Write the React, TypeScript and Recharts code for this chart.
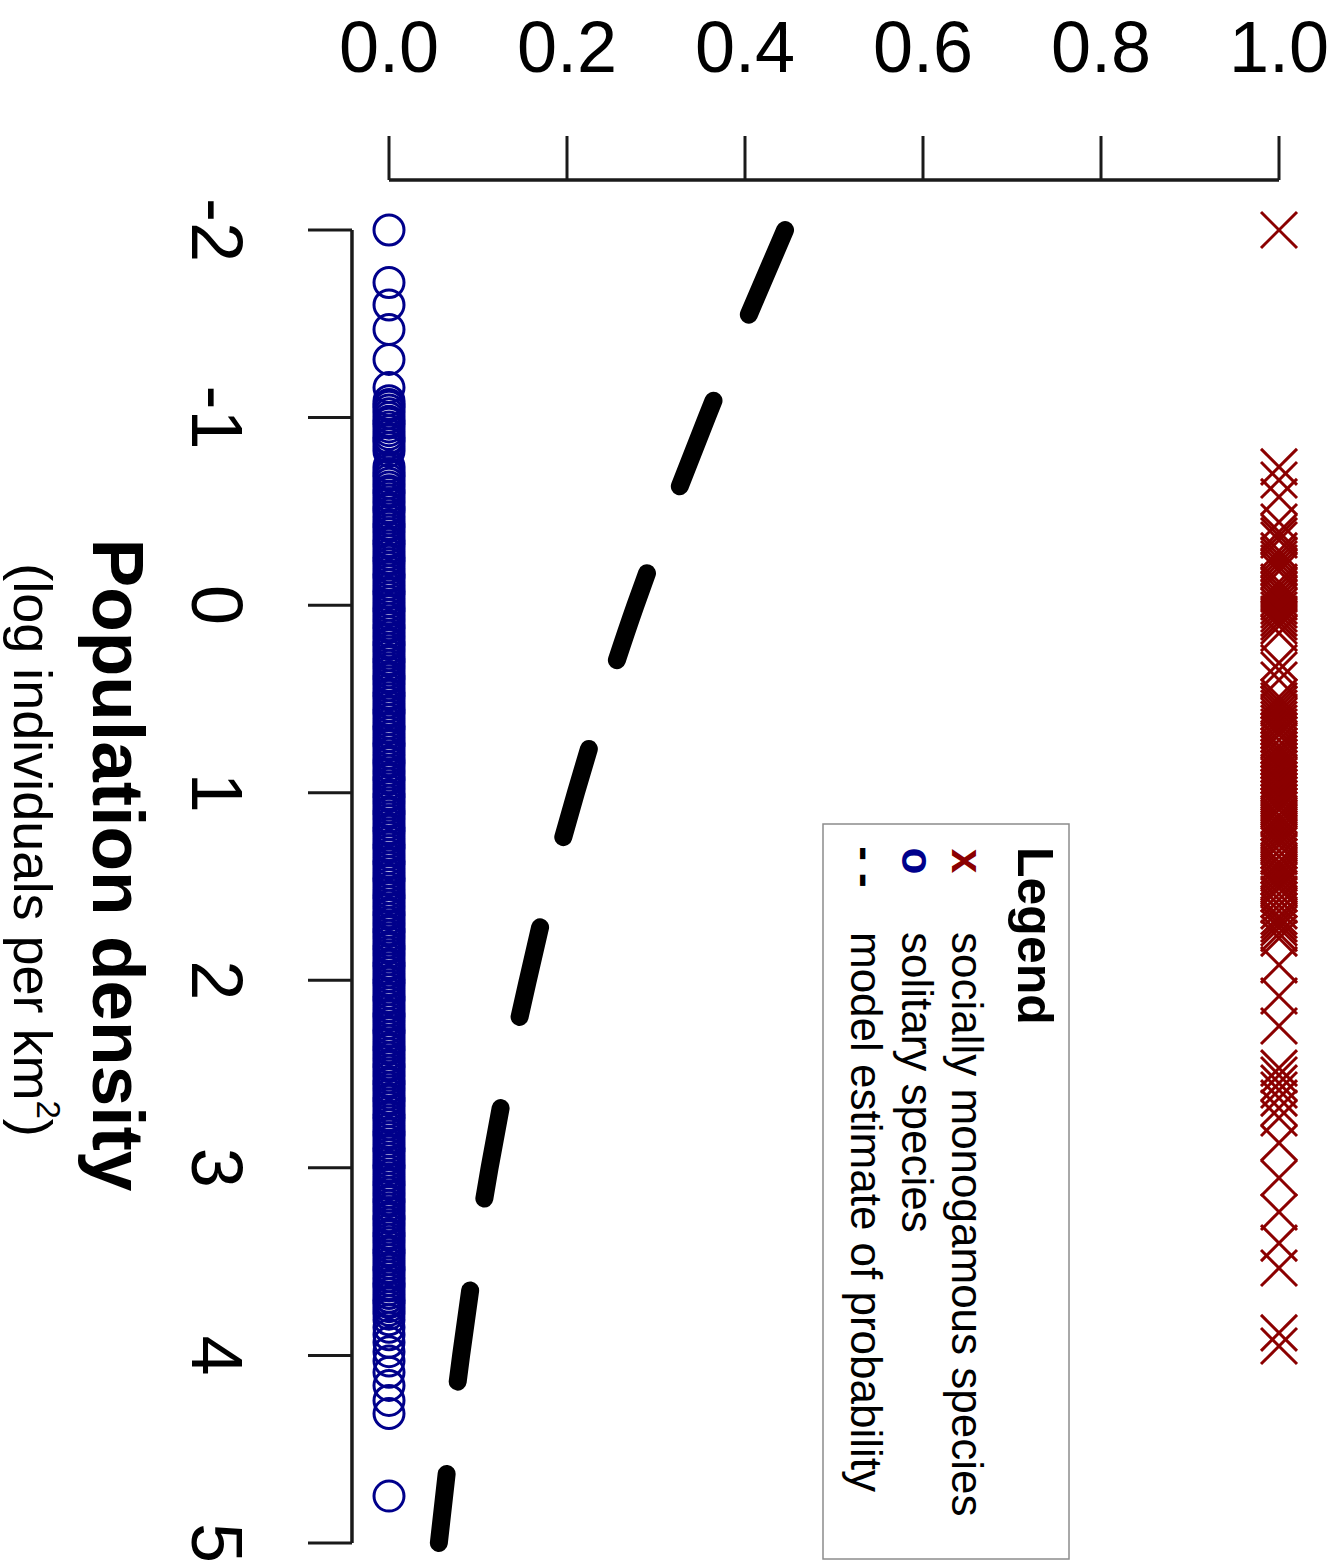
import React from 'react';
import {
  ComposedChart,
  Line,
  Scatter,
  XAxis,
  YAxis,
  ReferenceLine,
  Legend,
  Customized,
} from 'recharts';

// ---------- data ----------
const densityTicks = [-2, -1, 0, 1, 2, 3, 4, 5];
const probabilityTicks = [0, 0.2, 0.4, 0.6, 0.8, 1.0];

const modelDensity = [-2, -1.5, -1, -0.5, 0, 0.5, 1, 1.5, 2, 2.5, 3, 3.5, 4, 4.5, 5];
const modelProbability = [0.445, 0.4, 0.357, 0.316, 0.277, 0.242, 0.21, 0.181, 0.156, 0.133, 0.113, 0.096, 0.081, 0.068, 0.056];

// socially monogamous species (probability = 1)
const monogamousDensity = [
  -2.0,
  -0.737, -0.667, -0.577, -0.443,
  -0.39, -0.369, -0.347, -0.289, -0.267, -0.246, -0.225, -0.203, -0.182,
  -0.123, -0.102, -0.081, -0.059, -0.038, -0.017, 0.005, 0.026, 0.047, 0.069, 0.09, 0.111,
  0.149, 0.308, 0.346, 0.399, 0.49,
  0.51, 0.53, 0.55, 0.57, 0.59, 0.61, 0.63, 0.65, 0.67, 0.69, 0.72, 0.75, 0.77, 0.79,
  0.81, 0.83, 0.85, 0.87, 0.89, 0.91, 0.93, 0.95, 0.97, 0.99, 1.01, 1.03, 1.05, 1.07,
  1.09, 1.12, 1.14, 1.16, 1.18, 1.2, 1.22, 1.24, 1.26, 1.28, 1.31, 1.34, 1.37, 1.39,
  1.41, 1.43, 1.45, 1.47, 1.49, 1.51, 1.54, 1.57, 1.6, 1.63, 1.66, 1.68, 1.7, 1.72, 1.75,
  1.775, 1.918, 2.084, 2.244,
  2.468, 2.505, 2.548, 2.585, 2.628, 2.681, 2.734, 2.867, 3.054, 3.235, 3.401, 3.534,
  3.88, 3.95,
];

// solitary species (probability = 0)
const solitaryDensity = [
  -2.0, -1.72, -1.6, -1.47, -1.31, -1.16,
  -1.09, -1.07, -1.06, -1.04, -1.02, -1.0, -0.98, -0.97, -0.95, -0.93, -0.91, -0.89, -0.88, -0.86, -0.84, -0.82,
  -0.74, -0.72, -0.7, -0.69, -0.67, -0.65, -0.63, -0.61, -0.6, -0.58, -0.56, -0.54, -0.52, -0.51, -0.49, -0.47,
  -0.45, -0.43, -0.42, -0.4, -0.38, -0.36, -0.34, -0.33, -0.31, -0.29, -0.27, -0.25, -0.24, -0.22, -0.2, -0.18,
  -0.16, -0.15, -0.13, -0.11, -0.09, -0.07, -0.06, -0.04, -0.02, 0.0, 0.02, 0.03, 0.05, 0.07, 0.09, 0.11,
  0.12, 0.14, 0.16, 0.18, 0.2, 0.21, 0.23, 0.25, 0.27, 0.29, 0.3, 0.32, 0.34, 0.36, 0.38, 0.39, 0.41, 0.43,
  0.45, 0.47, 0.48, 0.5, 0.52, 0.54, 0.56, 0.57, 0.59, 0.61, 0.63, 0.65, 0.66, 0.68, 0.7, 0.72, 0.74, 0.75,
  0.77, 0.79, 0.81, 0.83, 0.84, 0.86, 0.88, 0.9, 0.92, 0.93, 0.95, 0.97, 0.99, 1.01, 1.02, 1.04, 1.06, 1.08,
  1.1, 1.11, 1.13, 1.15, 1.17, 1.19, 1.2, 1.22, 1.24, 1.26, 1.28, 1.29, 1.31, 1.33, 1.35, 1.37, 1.38, 1.4,
  1.42, 1.44, 1.46, 1.47, 1.49, 1.51, 1.53, 1.55, 1.56, 1.58, 1.6, 1.62, 1.64, 1.65, 1.67, 1.69, 1.71, 1.73,
  1.74, 1.76, 1.78, 1.8, 1.82, 1.83, 1.85, 1.87, 1.89, 1.91, 1.92, 1.94, 1.96, 1.98, 2.0, 2.01, 2.03, 2.05,
  2.07, 2.09, 2.1, 2.12, 2.14, 2.16, 2.18, 2.19, 2.21, 2.23, 2.25, 2.27, 2.28, 2.3, 2.32, 2.34, 2.36, 2.37,
  2.39, 2.41, 2.43, 2.45, 2.46, 2.48, 2.5, 2.52, 2.54, 2.55, 2.57, 2.59, 2.61, 2.63, 2.64, 2.66, 2.68, 2.7,
  2.72, 2.73, 2.75, 2.77, 2.79, 2.81, 2.82, 2.84, 2.86, 2.88, 2.9, 2.91, 2.93, 2.95, 2.97, 2.99, 3.0, 3.02,
  3.04, 3.06, 3.08, 3.09, 3.11, 3.13, 3.15, 3.17, 3.18, 3.2, 3.22, 3.24, 3.26, 3.27, 3.29, 3.31, 3.33, 3.35,
  3.36, 3.38, 3.4, 3.42, 3.44, 3.45, 3.47, 3.49, 3.51, 3.53, 3.54, 3.56, 3.58, 3.6, 3.62, 3.63, 3.65, 3.67,
  3.69, 3.71, 3.72, 3.74, 3.76, 3.78,
  3.81, 3.85, 3.89, 3.93, 3.98, 4.03, 4.09, 4.16, 4.24, 4.31, 4.75,
];

const legendTitle = 'Legend';
const legendSymbols = ['x', 'o', '- -'];
const legendLabels = ['socially monogamous species', 'solitary species', 'model estimate of probability'];
const xAxisTitle = 'Population density';
const xAxisSubtitle = '(log individuals per km';

// ---------- styles ----------
const FONT = "'Liberation Sans', Arial, Helvetica, sans-serif";
const RED = '#8B0000';
const BLUE = '#00008B';
const AXIS = '#1a1a1a';

const W = 1565; // chart drawn in un-rotated frame, then rotated 90deg clockwise
const H = 1342;

const modelData = modelDensity.map((d, i) => ({ d, p: modelProbability[i] }));
const monogamousData = monogamousDensity.map((d) => ({ d, p: 1 }));
const solitaryData = solitaryDensity.map((d) => ({ d, p: 0 }));

const XTick = (props: any) => {
  const { x, payload } = props;
  return (
    <g>
      <line x1={x} x2={x} y1={990} y2={1034} stroke={AXIS} strokeWidth={3} />
      <text x={x} y={1150} textAnchor="middle" fontSize={72} fontFamily={FONT} fill="#000">
        {String(payload.value)}
      </text>
    </g>
  );
};

const YTick = (props: any) => {
  const { y, payload } = props;
  return (
    <g>
      <line x1={136} x2={180} y1={y} y2={y} stroke={AXIS} strokeWidth={3} />
      <text
        x={72}
        y={y}
        transform={`rotate(-90 72 ${y})`}
        textAnchor="middle"
        fontSize={72}
        fontFamily={FONT}
        fill="#000"
      >
        {Number(payload.value).toFixed(1)}
      </text>
    </g>
  );
};

const CircleShape = (props: any) => (
  <circle cx={props.cx} cy={props.cy} r={15} fill="none" stroke={BLUE} strokeWidth={3} />
);

const CrossShape = (props: any) => {
  const { cx, cy } = props;
  const s = 18;
  return (
    <g stroke={RED} strokeWidth={3}>
      <line x1={cx - s} y1={cy - s} x2={cx + s} y2={cy + s} />
      <line x1={cx - s} y1={cy + s} x2={cx + s} y2={cy - s} />
    </g>
  );
};

const LegendBox = () => (
  <svg width={737} height={248} style={{ display: 'block' }} fontFamily={FONT}>
    <rect x={1} y={1} width={735} height={246} fill="#fff" stroke="#8c8c8c" strokeWidth={1.5} />
    <text x={24} y={52} fontSize={50} fontWeight="bold" fill="#000">{legendTitle}</text>
    <text x={38} y={118} fontSize={44} fontWeight="bold" textAnchor="middle" fill={RED}>{legendSymbols[0]}</text>
    <text x={109} y={118} fontSize={44} fill="#000">{legendLabels[0]}</text>
    <text x={38} y={168} fontSize={44} fontWeight="bold" textAnchor="middle" fill={BLUE}>{legendSymbols[1]}</text>
    <text x={109} y={168} fontSize={44} fill="#000">{legendLabels[1]}</text>
    <text x={44} y={219} fontSize={44} fontWeight="bold" textAnchor="middle" fill="#000">{legendSymbols[2]}</text>
    <text x={109} y={219} fontSize={44} fill="#000">{legendLabels[2]}</text>
  </svg>
);

const AxisTitles = () => (
  <g fontFamily={FONT} fill="#000">
    <text x={865} y={1249} textAnchor="middle" fontSize={73} fontWeight="bold">{xAxisTitle}</text>
    <text x={850} y={1328} textAnchor="middle" fontSize={54}>
      {xAxisSubtitle}
      <tspan fontSize={33} dy={-23}>2</tspan>
      <tspan dy={23}>)</tspan>
    </text>
  </g>
);

export default function App() {
  return (
    <div
      style={{
        position: 'absolute',
        left: 0,
        top: 0,
        width: W,
        height: H,
        background: '#fff',
        transformOrigin: '0 0',
        transform: `translate(${H}px, 0px) rotate(90deg)`,
      }}
    >
      <ComposedChart width={W} height={H} margin={{ top: 63, right: 22, bottom: 89, left: 50 }}>
        <XAxis
          type="number"
          dataKey="d"
          domain={[-2, 5]}
          ticks={densityTicks}
          interval={0}
          height={300}
          axisLine={false}
          tickLine={false}
          tick={<XTick />}
        />
        <YAxis
          type="number"
          dataKey="p"
          domain={[0, 1]}
          ticks={probabilityTicks}
          interval={0}
          width={180}
          axisLine={false}
          tickLine={false}
          tick={<YTick />}
        />
        <ReferenceLine
          segment={[{ x: -2, y: -0.0416 }, { x: 5, y: -0.0416 }]}
          ifOverflow="visible"
          stroke={AXIS}
          strokeWidth={3.5}
        />
        <ReferenceLine
          segment={[{ x: -2.2666, y: 0 }, { x: -2.2666, y: 1 }]}
          ifOverflow="visible"
          stroke={AXIS}
          strokeWidth={3.5}
        />
        <Scatter name="solitary species" data={solitaryData} shape={<CircleShape />} isAnimationActive={false} />
        <Scatter name="socially monogamous species" data={monogamousData} shape={<CrossShape />} isAnimationActive={false} />
        <Line
          name="model estimate of probability"
          data={modelData}
          dataKey="p"
          type="monotone"
          stroke="#000"
          strokeWidth={18}
          strokeDasharray="92 93"
          strokeLinecap="round"
          dot={false}
          activeDot={false}
          isAnimationActive={false}
        />
        <Legend
          layout="vertical"
          align="center"
          verticalAlign="middle"
          content={() => <LegendBox />}
          wrapperStyle={{ position: 'absolute', left: 823, top: 272, width: 737, height: 248 }}
        />
        <Customized component={AxisTitles} />
      </ComposedChart>
    </div>
  );
}
